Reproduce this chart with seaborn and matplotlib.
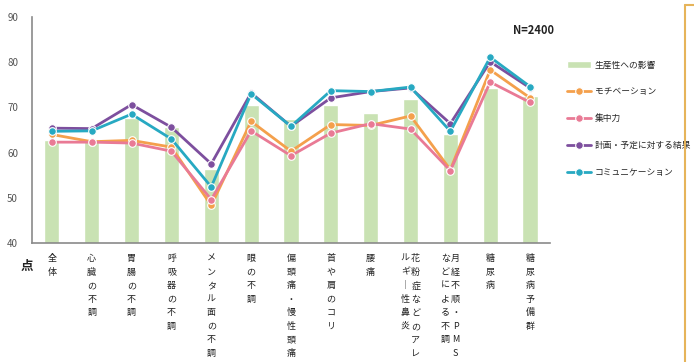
import numpy as np
import matplotlib
matplotlib.use("Agg")
import matplotlib.pyplot as plt
from matplotlib.lines import Line2D
import seaborn as sns

# categories (column break for two-column vertical labels marked with "/")
categories = ["全体", "心臓の不調", "胃腸の不調", "呼吸器の不調", "メンタル面の不調",
              "眼の不調", "偏頭痛・慢性頭痛", "首や肩のコリ", "腰痛",
              "花粉症などのアレ/ルギー性鼻炎", "月経不順・PMS/などによる不調",
              "糖尿病", "糖尿病予備群"]

productivity = [62.8, 62.5, 67.7, 65.6, 56.4, 70.6, 67.4, 70.6, 68.7, 71.8, 64.0, 74.3, 72.6]
motivation = [64.0, 62.4, 62.7, 61.2, 48.3, 66.9, 60.3, 66.2, 66.0, 68.1, 56.2, 78.3, 72.1]
concentration = [62.3, 62.3, 62.1, 60.3, 49.6, 64.8, 59.3, 64.3, 66.4, 65.2, 56.0, 75.6, 71.1]
plan = [65.4, 65.3, 70.6, 65.6, 57.5, 73.2, 65.8, 72.1, 73.5, 74.3, 66.4, 80.1, 74.3]
communication = [64.7, 64.8, 68.5, 63.0, 52.4, 73.0, 65.8, 73.7, 73.5, 74.5, 64.7, 81.1, 74.6]

series_names = ["モチベーション", "集中力", "計画・予定に対する結果", "コミュニケーション"]
series_vals = [motivation, concentration, plan, communication]
series_colors = ["#f4a04c", "#e97a95", "#7d4f9e", "#27a9c2"]
bar_name = "生産性への影響"
bar_color = "#c9e2b3"

sns.set_style("white")
plt.rcParams['font.family'] = ['Noto Sans CJK JP', 'DejaVu Sans']

fig = plt.figure(figsize=(6.94, 3.62), dpi=100)
ax = fig.add_axes([0.046, 0.329, 0.7465, 0.624])

x = np.arange(len(categories))
sns.barplot(x=x, y=productivity, color=bar_color, width=0.38, ax=ax,
            label=bar_name, saturation=1)
for name, vals, c in zip(series_names, series_vals, series_colors):
    sns.lineplot(x=x, y=vals, color=c, marker='o', markersize=5.5,
                 markeredgecolor='white', markeredgewidth=0.8, linewidth=2,
                 label=name, ax=ax)

ax.set_xlim(-0.5, len(categories) - 0.5)
ax.set_ylim(40, 90)
ax.set_yticks(range(40, 91, 10))
ax.tick_params(axis='y', direction='in', length=3, labelsize=7, colors='#555555', pad=10)
ax.set_xticks(np.arange(-0.5, len(categories), 1))
ax.set_xticklabels([])
ax.tick_params(axis='x', direction='inout', length=5, color='#888888')
ax.set_xlabel("")
for s in ['top', 'right']:
    ax.spines[s].set_visible(False)
for s in ['left', 'bottom']:
    ax.spines[s].set_color('#8a8a8a')
    ax.spines[s].set_linewidth(1.2)

# vertical Japanese category labels
trans = ax.get_xaxis_transform()
for i, lab in enumerate(categories):
    cols = lab.split("/")
    offs = [0.0] if len(cols) == 1 else [0.13, -0.13]
    for col, off in zip(cols, offs):
        txt = "\n".join("｜" if ch == "ー" else ch for ch in col)
        ax.text(i + off, -0.05, txt, transform=trans, ha='center', va='top',
                fontsize=6.5, linespacing=1.64, color='#222222')

fig.text(27 / 694, 1 - 266 / 362, "点", fontsize=9, fontweight='bold',
         ha='center', va='center', color='#222222')
fig.text(534 / 694, 1 - 30 / 362, "N=2400", fontsize=8, fontweight='bold',
         ha='center', va='center', color='#222222')

handles, labels = ax.get_legend_handles_labels()
order = [labels.index(bar_name)] + [labels.index(n) for n in series_names]
leg = ax.legend([handles[k] for k in order], [labels[k] for k in order],
                loc='upper left', bbox_to_anchor=(563 / 694, 1 - 57 / 362),
                bbox_transform=fig.transFigure, frameon=False, fontsize=6.3,
                labelspacing=2.05, handlelength=2.8, handletextpad=0.4,
                borderaxespad=0)

# right border line
fig.add_artist(Line2D([685 / 694, 685 / 694], [0, 1 - 5 / 362], color='#e6b45a', lw=1.5))
fig.add_artist(Line2D([685 / 694, 1], [1 - 5 / 362, 1 - 5 / 362], color='#e6b45a', lw=1.5))

fig.savefig("out.png", dpi=100)
